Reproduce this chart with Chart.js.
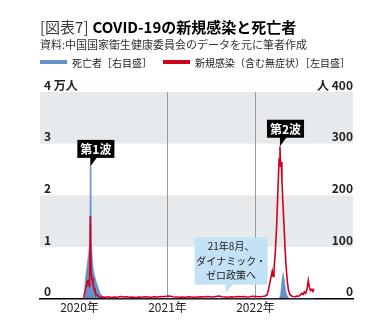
<!DOCTYPE html>
<html lang="ja">
<head>
<meta charset="utf-8">
<script src="https://cdn.jsdelivr.net/npm/chart.js@4"></script>
<style>
  html, body { margin: 0; padding: 0; background: #fff; }
  body { width: 391px; height: 333px; position: relative; overflow: hidden;
         font-family: 'Noto Sans CJK JP', 'Noto Sans', sans-serif; color: #222; }
  #chart { position: absolute; left: 0; top: 0; }
  .ttl { position: absolute; left: 40px; top: 18px; font-size: 15px; line-height: 18px; white-space: nowrap; }
  .ttl .fig { color: #333; font-weight: normal; margin-right: 4px; }
  .ttl b { color: #000; font-weight: bold; }
  .src { position: absolute; left: 40px; top: 38px; font-size: 11px; line-height: 13px; color: #333; white-space: nowrap; }
  .leg { position: absolute; top: 55px; height: 14px; display: flex; align-items: center;
         font-size: 10px; white-space: nowrap; }
  .leg i { display: inline-block; width: 27px; height: 4px; margin-right: 5px; }
</style>
</head>
<body>
<canvas id="chart" width="391" height="333"></canvas>
<div class="ttl"><span class="fig">[図表7]</span><b>COVID-19の新規感染と死亡者</b></div>
<div class="src">資料:中国国家衛生健康委員会のデータを元に筆者作成</div>
<div class="leg" style="left:40px"><i style="background:#6591ca"></i>死亡者［右目盛］</div>
<div class="leg" style="left:163px"><i style="background:#d2001f"></i>新規感染（含む無症状）［左目盛］</div>
<script>
// 年の目盛
const yearTicks = [2020, 2021, 2022];

// 新規感染（人/日）: 日付は年の小数
const infectionDates = [
  2020.040, 2020.051, 2020.063, 2020.074, 2020.085, 2020.097, 2020.108, 2020.115, 2020.123, 2020.131,
  2020.142, 2020.153, 2020.165, 2020.176, 2020.188, 2020.199, 2020.215, 2020.233, 2020.250, 2020.267,
  2020.290, 2020.325, 2020.360, 2020.395, 2020.430, 2020.465, 2020.500, 2020.535, 2020.570, 2020.605,
  2020.640, 2020.675, 2020.710, 2020.745, 2020.780, 2020.815, 2020.850, 2020.885, 2020.920, 2020.955,
  2020.990, 2021.025, 2021.060, 2021.095, 2021.130, 2021.165, 2021.200, 2021.235, 2021.270, 2021.305,
  2021.340, 2021.375, 2021.410, 2021.445, 2021.480, 2021.515, 2021.550, 2021.585, 2021.620, 2021.655,
  2021.690, 2021.725, 2021.760, 2021.795, 2021.830, 2021.865, 2021.900, 2021.935, 2021.970, 2022.005,
  2022.040, 2022.075, 2022.110, 2022.130, 2022.145, 2022.160, 2022.172, 2022.190, 2022.200, 2022.210,
  2022.225, 2022.240, 2022.255, 2022.268, 2022.278, 2022.285, 2022.292, 2022.300, 2022.310, 2022.322,
  2022.335, 2022.347, 2022.360, 2022.375, 2022.390, 2022.410, 2022.430, 2022.450, 2022.470, 2022.490,
  2022.510, 2022.525, 2022.540, 2022.555, 2022.570, 2022.585, 2022.600, 2022.612, 2022.625, 2022.640,
  2022.652, 2022.665
];
const infections = [
  0, 500, 1500, 2500, 3300, 3500, 2800, 2200, 16000, 5000,
  4000, 2800, 2000, 1300, 900, 700, 450, 300, 250, 300,
  250, 350, 200, 300, 250, 400, 300, 350, 250, 300,
  200, 300, 250, 350, 300, 250, 350, 300, 400, 350,
  450, 500, 350, 300, 250, 300, 250, 350, 300, 250,
  300, 350, 300, 400, 350, 300, 400, 500, 350, 300,
  250, 350, 300, 400, 350, 400, 300, 350, 450, 400,
  350, 400, 500, 700, 1500, 2800, 3800, 5300, 4300, 5500,
  9000, 14000, 21000, 27000, 29500, 25500, 26500, 23000, 19000, 15000,
  10000, 6500, 3500, 1600, 800, 500, 400, 350, 500, 450,
  700, 1000, 800, 1300, 1000, 1800, 3500, 2200, 1600, 1800,
  1400, 1900
];

// 死亡者（人/日）
const deathDates = [
  2020.055, 2020.062, 2020.075, 2020.090, 2020.105, 2020.115, 2020.123, 2020.130, 2020.140, 2020.155,
  2020.170, 2020.190, 2020.210, 2020.235, 2020.270, 2020.320, 2022.270, 2022.285, 2022.295, 2022.305,
  2022.314, 2022.325, 2022.337, 2022.350, 2022.365, 2022.380, 2022.400, 2022.665
];
const deaths = [
  0, 30, 50, 70, 90, 110, 256, 120, 90, 58,
  45, 33, 22, 10, 3, 0, 0, 8, 25, 42,
  50, 38, 22, 10, 4, 1, 0, 0
];

// 注記
const waveNames = ["第1波", "第2波"];
const waveDates = [2020.123, 2022.278];
const wavePeaks = [256, 29500];
const waveAxes = ["yR", "yL"];
const policyLines = ["21年8月、", "ダイナミック・", "ゼロ政策へ"];
const policyDate = 2021.66;

// 背景の帯（左目盛の単位）
const bands = [[10000, 20000], [30000, 40000]];

const FONT = "'Noto Sans CJK JP', 'Noto Sans', sans-serif";
Chart.defaults.font.family = FONT;
Chart.defaults.color = "#222";

const bandPlugin = {
  id: "bands",
  beforeDraw(chart) {
    const { ctx, chartArea: { left, right }, scales: { yL } } = chart;
    ctx.save();
    ctx.fillStyle = "#e7eaed";
    bands.forEach(b => {
      const top = yL.getPixelForValue(b[1]);
      const bottom = yL.getPixelForValue(b[0]);
      ctx.fillRect(left, top, right - left, bottom - top);
    });
    ctx.restore();
  }
};

const calloutPlugin = {
  id: "callouts",
  afterDatasetsDraw(chart) {
    const { ctx, scales } = chart;
    ctx.save();
    // 第1波・第2波
    ctx.font = "bold 12px " + FONT;
    ctx.textAlign = "center";
    ctx.textBaseline = "middle";
    waveNames.forEach((name, i) => {
      const tx = scales.x.getPixelForValue(waveDates[i]);
      const ty = scales[waveAxes[i]].getPixelForValue(wavePeaks[i]);
      const w = ctx.measureText(name).width + 6;
      const h = 18;
      const bx = tx - 13;
      const bBottom = ty - 8.5;
      ctx.fillStyle = "#000";
      ctx.fillRect(bx, bBottom - h, w, h);
      ctx.beginPath();
      ctx.moveTo(tx, bBottom - 1);
      ctx.lineTo(tx + 7, bBottom - 1);
      ctx.lineTo(tx, ty);
      ctx.closePath();
      ctx.fill();
      ctx.fillStyle = "#fff";
      ctx.fillText(name, bx + w / 2, bBottom - h / 2 + 0.5);
    });
    // ダイナミック・ゼロ政策
    const px = scales.x.getPixelForValue(policyDate);
    const py = scales.yL.getPixelForValue(0) - 5;
    const bw = 73, bh = 47;
    const bx = px - 31;
    const bb = py - 9;
    ctx.fillStyle = "#c3e2f6";
    ctx.fillRect(bx, bb - bh, bw, bh);
    ctx.beginPath();
    ctx.moveTo(px, bb - 1);
    ctx.lineTo(px + 8, bb - 1);
    ctx.lineTo(px, py);
    ctx.closePath();
    ctx.fill();
    ctx.fillStyle = "#222";
    ctx.font = "10px " + FONT;
    policyLines.forEach((t, i) => {
      ctx.fillText(t, bx + bw / 2, bb - bh + 8.5 + i * 14.7);
    });
    ctx.restore();
  }
};

const toPoints = (xs, ys) => xs.map((x, i) => ({ x: x, y: ys[i] }));

new Chart(document.getElementById("chart"), {
  type: "line",
  data: {
    datasets: [
      {
        label: "死亡者［右目盛］",
        data: toPoints(deathDates, deaths),
        yAxisID: "yR",
        fill: "origin",
        backgroundColor: "#6591ca",
        borderColor: "#6591ca",
        borderWidth: 0.6,
        pointRadius: 0,
        tension: 0,
        order: 2
      },
      {
        label: "新規感染（含む無症状）［左目盛］",
        data: toPoints(infectionDates, infections),
        yAxisID: "yL",
        fill: false,
        borderColor: "#d2001f",
        borderWidth: 1.6,
        pointRadius: 0,
        tension: 0,
        order: 1
      }
    ]
  },
  options: {
    responsive: false,
    animation: false,
    devicePixelRatio: 1,
    layout: { padding: { left: 40, right: 38, top: 92, bottom: 16 } },
    plugins: { legend: { display: false }, tooltip: { enabled: false } },
    scales: {
      x: {
        type: "linear",
        min: 2019.551,
        max: 2023.108,
        afterBuildTicks: s => { s.ticks = yearTicks.map(v => ({ value: v })); },
        ticks: {
          callback: v => v + "年",
          font: { size: 12 },
          padding: 2,
          maxRotation: 0,
          autoSkip: false
        },
        grid: {
          color: c => (c.tick && c.tick.value === yearTicks[0]) ? "rgba(0,0,0,0)" : "#9a9a9a",
          lineWidth: 1,
          drawTicks: false
        },
        border: { display: true, color: "#000", width: 1.5 }
      },
      yL: {
        position: "left",
        min: 0,
        max: 40000,
        afterFit: s => { s.width = 0; },
        ticks: {
          stepSize: 10000,
          mirror: true,
          padding: 4,
          labelOffset: -7,
          font: { size: 12, weight: "bold" },
          callback: v => v === 40000 ? "4 万人" : String(v / 10000)
        },
        grid: { display: false, drawTicks: false },
        border: { display: false }
      },
      yR: {
        position: "right",
        min: 0,
        max: 400,
        afterFit: s => { s.width = 0; },
        ticks: {
          stepSize: 100,
          mirror: true,
          padding: 0,
          labelOffset: -7,
          font: { size: 12, weight: "bold" },
          callback: v => v === 400 ? "人 400" : String(v)
        },
        grid: { display: false, drawTicks: false },
        border: { display: false }
      }
    }
  },
  plugins: [bandPlugin, calloutPlugin]
});
</script>
</body>
</html>
